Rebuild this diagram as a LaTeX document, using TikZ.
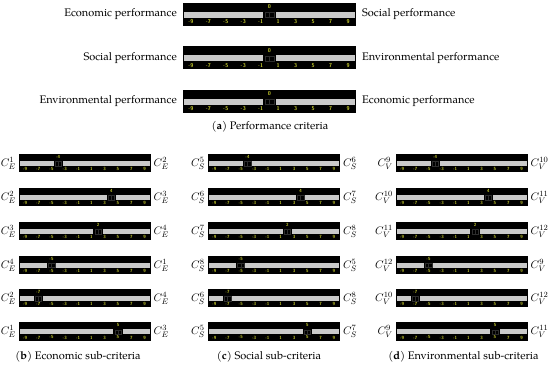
\documentclass[tikz,border=0pt]{standalone}
\usepackage{fontspec}
\setmainfont{TeX Gyre Pagella}
\definecolor{bargray}{RGB}{202,202,202}
\definecolor{tickcol}{RGB}{200,205,45}
\definecolor{thumbedge}{RGB}{45,45,45}
\tikzset{
  barbg/.style={fill=black},
  band/.style={fill=bargray},
  thumb/.style={fill=black},
  thumbline/.style={draw=thumbedge,line width=0.3pt},
  tickbig/.style={text=tickcol,inner sep=0pt,font=\sffamily\bfseries\fontsize{5.5}{6}\selectfont},
  ticksmall/.style={text=tickcol,inner sep=0pt,font=\sffamily\bfseries\fontsize{4.5}{5}\selectfont},
  tlab/.style={inner sep=0pt,font=\fontsize{11}{12}\selectfont},
  mlab/.style={inner sep=0pt,font=\fontsize{11}{12}\selectfont},
  captxt/.style={inner sep=0pt,font=\fontsize{11}{12}\selectfont}
}
% #1 name, #2 x, #3 y, #4 width, #5 height, #6 value, #7 tick style
\newcommand{\slidebar}[7]{%
\begin{scope}[shift={(#2,#3)}]
\fill[barbg] (0,0) rectangle (#4,#5);
\fill[band] (1,0.38*#5) rectangle (#4-1,0.64*#5);
\foreach \t [count=\k from 0] in {-9,-7,...,9}
  \node[#7] (#1-t\k) at ({0.045*#4+\k*0.10111*#4},0.82*#5) {\t};
\pgfmathsetmacro\thx{0.5*#4+(#6)*0.050556*#4}
\fill[thumb] (\thx-0.035*#4,0.35*#5) rectangle (\thx+0.035*#4,0.69*#5);
\draw[thumbline] (\thx-0.025*#4,0.41*#5) rectangle (\thx+0.025*#4,0.63*#5);
\draw[thumbline] (\thx,0.41*#5) -- (\thx,0.63*#5);
\node[#7] (#1-v) at (\thx,0.16*#5) {#6};
\end{scope}}
% #1 name, #2 y, #3 left text, #4 right text
\newcommand{\toprow}[4]{%
\slidebar{#1}{183}{#2}{173}{23}{0}{tickbig}
\node[tlab,anchor=east] (#1-l) at (177,#2+11.5) {#3};
\node[tlab,anchor=west] (#1-r) at (362,#2+11.5) {#4};}
% #1 name, #2 x, #3 y, #4 value, #5 left, #6 right
\newcommand{\subrow}[6]{%
\slidebar{#1}{#2}{#3}{131.5}{18.5}{#4}{ticksmall}
\node[mlab,anchor=east] (#1-l) at (#2-3,#3+9.5) {$#5$};
\node[mlab,anchor=west] (#1-r) at (#2+131.5+3,#3+9.5) {$#6$};}
\begin{document}
\begin{tikzpicture}[x=1pt,y=-1pt]
\useasboundingbox (0,0) rectangle (550,366);
\toprow{ta}{3}{Economic performance}{Social performance}
\toprow{tb}{46.5}{Social performance}{Environmental performance}
\toprow{tc}{90}{Environmental performance}{Economic performance}
\node[captxt] (capa) at (270,127) {(\textbf{a}) Performance criteria};
% column b
\subrow{b1}{19}{154}{-4}{C_E^1}{C_E^2}
\subrow{b2}{19}{188}{4}{C_E^2}{C_E^3}
\subrow{b3}{19}{222}{2}{C_E^3}{C_E^4}
\subrow{b4}{19}{255.7}{-5}{C_E^4}{C_E^1}
\subrow{b5}{19}{289}{-7}{C_E^2}{C_E^4}
\subrow{b6}{19}{322.3}{5}{C_E^1}{C_E^3}
% column c
\subrow{c1}{208.3}{154}{-4}{C_S^5}{C_S^6}
\subrow{c2}{208.3}{188}{4}{C_S^6}{C_S^7}
\subrow{c3}{208.3}{222}{2}{C_S^7}{C_S^8}
\subrow{c4}{208.3}{255.7}{-5}{C_S^8}{C_S^5}
\subrow{c5}{208.3}{289}{-7}{C_S^6}{C_S^8}
\subrow{c6}{208.3}{322.3}{5}{C_S^5}{C_S^7}
% column d
\subrow{d1}{396}{154}{-4}{C_V^9}{C_V^{10}}
\subrow{d2}{396}{188}{4}{C_V^{10}}{C_V^{11}}
\subrow{d3}{396}{222}{2}{C_V^{11}}{C_V^{12}}
\subrow{d4}{396}{255.7}{-5}{C_V^{12}}{C_V^9}
\subrow{d5}{396}{289}{-7}{C_V^{10}}{C_V^{12}}
\subrow{d6}{396}{322.3}{5}{C_V^9}{C_V^{11}}
\node[captxt] (capb) at (78,357) {(\textbf{b}) Economic sub-criteria};
\node[captxt] (capc) at (269,357) {(\textbf{c}) Social sub-criteria};
\node[captxt] (capd) at (463.5,357) {(\textbf{d}) Environmental sub-criteria};
\end{tikzpicture}
\end{document}
